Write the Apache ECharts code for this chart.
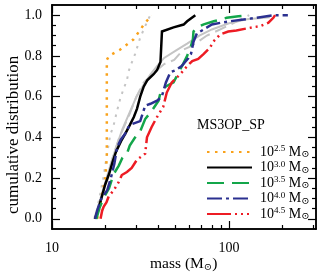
<!DOCTYPE html>
<html><head><meta charset="utf-8">
<script src="https://cdn.jsdelivr.net/npm/echarts@6/dist/echarts.min.js"></script>
<style>html,body{margin:0;padding:0;background:#fff}#c{width:322px;height:273px}</style>
</head><body><div id="c"></div>
<script>
// ---- data (mass in Msun, cumulative fraction) ----
const xTickMajor = [10, 100];
const xTickMinor = [20, 30, 40, 50, 60, 70, 80, 90, 200, 300];
const yTickMajor = [0, 0.2, 0.4, 0.6, 0.8, 1.0];
const yTickMinor = [0.05, 0.1, 0.15, 0.25, 0.3, 0.35, 0.45, 0.5, 0.55, 0.65, 0.7, 0.75, 0.85, 0.9, 0.95];
const legendNames = ['2.5', '3.0', '3.5', '4.0', '4.5'];

const massOrange = [18.0, 19.0, 20.0, 20.4, 20.4, 21.0, 24.2, 28.8, 32.8, 36.5];
const cdfOrange  = [0.0, 0.1, 0.2, 0.3, 0.78, 0.80, 0.83, 0.88, 0.95, 1.0];

const massBlack = [17.5, 18.3, 19.0, 20.0, 21.0, 22.0, 23.0, 24.5, 26.0, 27.5, 29.0, 30.2, 31.5, 33.0, 34.5, 37.5, 39.2, 41.0, 41.8, 41.8, 48.6, 55.4, 58.0, 64.5];
const cdfBlack  = [0.0, 0.05, 0.1, 0.17, 0.22, 0.28, 0.33, 0.38, 0.42, 0.46, 0.5, 0.54, 0.6, 0.65, 0.68, 0.71, 0.73, 0.77, 0.77, 0.92, 0.94, 0.954, 0.97, 1.0];

const massGreen = [17.8, 18.5, 19.5, 21.0, 22.3, 23.8, 25.0, 26.5, 27.5, 29.5, 31.5, 33.6, 36.6, 40.0, 41.0, 44.0, 48.6, 52.0, 55.0, 58.0, 61.0, 62.5, 63.0, 66.0, 72.0, 82.0, 97.0, 113.0, 130.0];
const cdfGreen  = [0.0, 0.05, 0.1, 0.15, 0.22, 0.26, 0.3, 0.32, 0.36, 0.4, 0.43, 0.49, 0.53, 0.58, 0.62, 0.65, 0.67, 0.72, 0.76, 0.8, 0.85, 0.88, 0.92, 0.94, 0.955, 0.97, 0.987, 0.995, 1.0];

const massBlue = [17.5, 18.0, 19.0, 20.5, 21.5, 22.5, 23.3, 24.5, 26.0, 27.0, 28.3, 31.5, 33.6, 36.0, 39.2, 41.7, 44.0, 46.6, 50.0, 54.0, 59.0, 61.0, 63.0, 65.8, 72.0, 80.0, 90.0, 101.0, 121.0, 150.0, 180.0, 215.0];
const cdfBlue  = [0.0, 0.04, 0.1, 0.14, 0.2, 0.27, 0.35, 0.39, 0.42, 0.45, 0.465, 0.48, 0.555, 0.565, 0.58, 0.6, 0.67, 0.72, 0.73, 0.75, 0.79, 0.81, 0.87, 0.91, 0.93, 0.954, 0.963, 0.97, 0.979, 0.99, 1.0, 1.0];

const massRed = [18.8, 19.2, 19.6, 20.3, 20.9, 22.3, 23.8, 24.8, 26.5, 28.2, 30.2, 33.6, 34.4, 36.5, 39.2, 42.5, 44.5, 47.5, 53.0, 58.0, 62.0, 67.0, 72.0, 78.0, 81.5, 89.0, 99.0, 110.0, 135.0, 150.0, 167.0, 178.0, 182.0];
const cdfRed  = [0.0, 0.04, 0.06, 0.08, 0.11, 0.14, 0.18, 0.215, 0.23, 0.25, 0.29, 0.32, 0.4, 0.45, 0.5, 0.55, 0.62, 0.67, 0.71, 0.75, 0.775, 0.785, 0.81, 0.84, 0.87, 0.905, 0.92, 0.925, 0.94, 0.946, 0.963, 0.987, 1.0];

const massGreyDot = [17.5, 18.5, 19.5, 20.3, 21.3, 22.3, 23.3, 24.3, 25.4, 26.5, 27.1, 28.3, 29.5, 31.5, 33.6, 35.9];
const cdfGreyDot  = [0.0, 0.1, 0.2, 0.3, 0.41, 0.46, 0.53, 0.59, 0.64, 0.68, 0.725, 0.77, 0.81, 0.89, 0.946, 1.0];

const massGreySolid = [17.3, 18.5, 20.0, 21.5, 23.0, 25.0, 27.7, 30.0, 33.0, 36.0, 39.2, 43.0, 50.8, 58.0, 68.0, 80.0, 100.0, 126.0, 170.0];
const cdfGreySolid  = [0.0, 0.08, 0.18, 0.27, 0.35, 0.44, 0.53, 0.6, 0.66, 0.71, 0.75, 0.79, 0.83, 0.86, 0.9, 0.93, 0.96, 0.98, 0.99];

const massGreyDash = [17.5, 19.0, 20.5, 22.0, 24.0, 27.0, 30.0, 33.0, 38.0, 43.0, 49.0, 55.0, 62.0, 75.0, 100.0, 130.0];
const cdfGreyDash  = [0.0, 0.1, 0.2, 0.3, 0.4, 0.5, 0.6, 0.67, 0.72, 0.76, 0.78, 0.83, 0.85, 0.9, 0.95, 1.0];

const zip = (xs, ys) => xs.map((x, i) => [x, ys[i]]);

const SERIF = '"Liberation Serif","DejaVu Serif",serif';
const chart = echarts.init(document.getElementById('c'), null, {renderer: 'canvas'});

function xAx(pos, ticks, len, labels) {
  return {
    type: 'log', logBase: 10, min: 10, max: 310, position: pos,
    axisLine: {show: true, onZero: false, lineStyle: {color: '#000', width: 1.5}},
    axisTick: {show: true, inside: true, length: len, customValues: ticks, lineStyle: {color: '#000', width: 1.2}},
    axisLabel: labels ? {show: true, customValues: xTickMajor, color: '#000', fontFamily: SERIF, fontSize: 14, margin: 12} : {show: false},
    splitLine: {show: false}, minorTick: {show: false}
  };
}
function yAx(pos, ticks, len, labels) {
  return {
    type: 'value', min: -0.05, max: 1.05, position: pos,
    axisLine: {show: true, onZero: false, lineStyle: {color: '#000', width: 1.5}},
    axisTick: {show: true, inside: true, length: len, customValues: ticks, lineStyle: {color: '#000', width: 1.2}},
    axisLabel: labels ? {show: true, customValues: yTickMajor, color: '#000', fontFamily: SERIF, fontSize: 14, margin: 10,
      formatter: v => Number(v).toFixed(1)} : {show: false},
    splitLine: {show: false}
  };
}

function ser(name, xs, ys, color, width, type, z) {
  return {
    name: name, type: 'line', data: zip(xs, ys), xAxisIndex: 0, yAxisIndex: 0,
    symbol: 'none', showSymbol: false, z: z, silent: true, animation: false,
    lineStyle: {color: color, width: width, type: type, cap: 'butt', join: 'miter'},
    itemStyle: {color: color}
  };
}
const GREY = '#c4c4c4';
const option = {
  animation: false,
  grid: {left: 52, right: 6, top: 5, bottom: 44, containLabel: false},
  xAxis: [xAx('bottom', xTickMajor, 8, true), xAx('bottom', xTickMinor, 4, false),
          xAx('top', xTickMajor, 8, false), xAx('top', xTickMinor, 4, false)],
  yAxis: [yAx('left', yTickMajor, 8, true), yAx('left', yTickMinor, 4, false),
          yAx('right', yTickMajor, 8, false), yAx('right', yTickMinor, 4, false)],
  legend: {
    data: legendNames, orient: 'vertical', left: 201, top: 139.5, itemWidth: 45, itemHeight: 8, itemGap: 0.5,
    itemStyle: {opacity: 0},
    textStyle: {color: '#000', fontFamily: SERIF, fontSize: 14, lineHeight: 15, padding: [0, 0, 0, 3],
      rich: {sup: {fontSize: 9, verticalAlign: 'top', lineHeight: 15, fontFamily: SERIF, padding: [0,0,6,0]},
             sub: {fontSize: 10, fontFamily: SERIF, verticalAlign: 'bottom', padding: [5,0,0,0]}}},
    formatter: n => '10{sup|' + n + '} M{sub|⊙}',
    selectedMode: false
  },
  graphic: [
    {type: 'text', left: 197, top: 118, style: {text: 'MS3OP_SP', font: '14px ' + SERIF, fill: '#000'}},
    {type: 'text', x: 150, y: 256, style: {text: 'mass (M{s|⊙})', font: '15.5px ' + SERIF, fill: '#000',
      rich: {s: {fontSize: 10, fontFamily: SERIF, padding: [6,0,0,0]}}}},
    {type: 'text', x: 5, y: 214, rotation: Math.PI / 2, style: {text: 'cumulative distribution', font: '17px ' + SERIF, fill: '#000'}}
  ],
  series: [
    ser('gdot', massGreyDot, cdfGreyDot, GREY, 2, [2.5, 5.5], 2),
    ser('gsolid', massGreySolid, cdfGreySolid, GREY, 2, 'solid', 2),
    ser('gdash', massGreyDash, cdfGreyDash, GREY, 2, [12, 6], 2),
    ser('2.5', massOrange, cdfOrange, '#f9a21b', 2.5, [2.5, 5.5], 5),
    ser('3.0', massBlack, cdfBlack, '#000000', 2.5, 'solid', 5),
    ser('3.5', massGreen, cdfGreen, '#13a64a', 2.5, [17, 8], 5),
    ser('4.0', massBlue, cdfBlue, '#2b3090', 2.5, [15, 4, 3, 4], 5),
    ser('4.5', massRed, cdfRed, '#ed1c24', 2.5, [24, 4, 2, 4, 2, 4, 2, 4], 5)
  ]
};
chart.setOption(option);
</script></body></html>
